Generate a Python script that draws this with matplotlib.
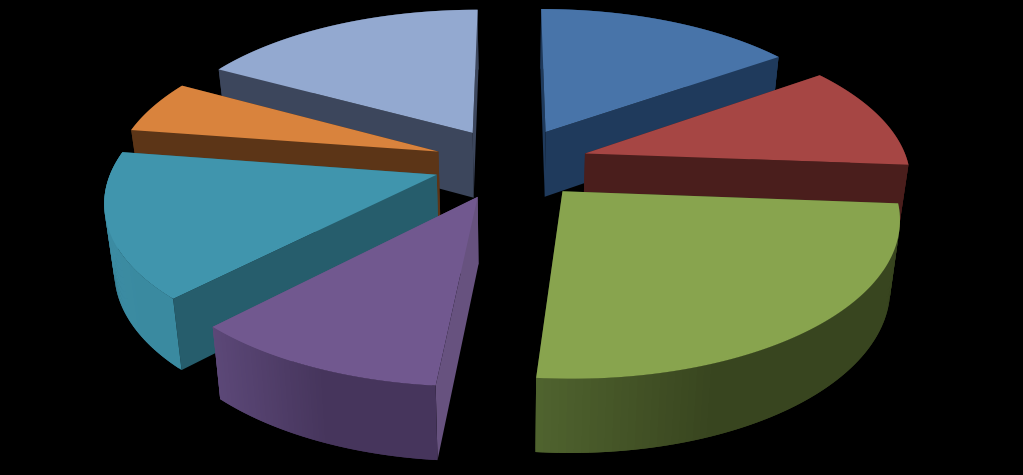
#3D exploded pie on a black background, drawn by hand because matplotlib has no 3D pie.
import numpy as np
import matplotlib
matplotlib.use('Agg')
import matplotlib.pyplot as plt
from matplotlib.colors import to_rgb
from matplotlib.patches import Polygon

#Slice shares in percent, clockwise from the top.
values = [15.2, 11.0, 25.25, 10.75, 15.2, 5.6, 17.0]
top_colors = ['#4874a9', '#a64644', '#88a44e', '#71588f', '#4095ad', '#d9833d', '#93a9d0']
cut_colors = ['#1f3a5c', '#4a1e1c', '#36451f', '#67527f', '#265d6c', '#5c3517', '#3c465c']
wall_colors = ['#1f3a5c', '#4a1e1c', '#50642f', '#5c4878', '#3c8ca3', '#5c3517', '#3c465c']
wall_dark = ['#1f3a5c', '#4a1e1c', '#38451f', '#46355c', '#3a8aa0', '#5c3517', '#3c465c']

#Projection settings, pixels of the 1023x475 picture.
cx, cy = 511, 163
scale_x, scale_y = 323, 150
persp = 0.15
explode = 0.24
depth = 66
shrink = 0.025

def project(gx, gy, z=0):
    s = 1 / (1 + persp * gy)
    sx = cx + scale_x * gx * s * (1 - shrink * z)
    sy = cy - scale_y * gy * s + z * depth * s ** 0.6
    return sx, sy

fig = plt.figure(figsize=(10.23, 4.75), dpi=100, facecolor='black')
ax = fig.add_axes([0, 0, 1, 1])
ax.set_xlim(0, 1023)
ax.set_ylim(475, 0)
ax.axis('off')

edges = np.cumsum([0] + values) / sum(values) * 360

#Back slices first so the front ones cover them.
mids = (edges[:-1] + edges[1:]) / 2
order = np.argsort(-np.cos(np.radians(mids)))

for n, i in enumerate(order):
    a0, a1 = edges[i], edges[i + 1]
    mid = np.radians(mids[i])
    ox, oy = explode * np.sin(mid), explode * np.cos(mid)
    th = np.radians(np.linspace(a0, a1, 80))
    gx, gy = ox + np.sin(th), oy + np.cos(th)
    top = np.array([project(x, y) for x, y in zip(gx, gy)])
    low = np.array([project(x, y, 1) for x, y in zip(gx, gy)])
    apex = project(ox, oy)
    apex_low = project(ox, oy, 1)
    z = 2 * n
    #Cut faces.
    ax.add_patch(Polygon([apex, top[0], low[0], apex_low], fc=cut_colors[i], ec='none', zorder=z))
    ax.add_patch(Polygon([apex, top[-1], low[-1], apex_low], fc=cut_colors[i], ec='none', zorder=z))
    #Rim, left side of the picture lighter, quads overlap so no seams show.
    c1 = np.array(to_rgb(wall_colors[i]))
    c2 = np.array(to_rgb(wall_dark[i]))
    xs = top[:, 0]
    for k in range(len(th) - 1):
        f = min(1, 2 * (xs[k] - xs.min()) / (xs.max() - xs.min()))
        col = c1 + (c2 - c1) * f
        j = min(k + 2, len(th) - 1)
        ax.add_patch(Polygon([top[k], top[j], low[j], low[k]], fc=col, ec='none', zorder=z))
    #Top face.
    ax.add_patch(Polygon(np.vstack([[apex], top]), fc=top_colors[i], ec='none', zorder=z + 1))

fig.savefig('out.png', dpi=100, facecolor='black')
